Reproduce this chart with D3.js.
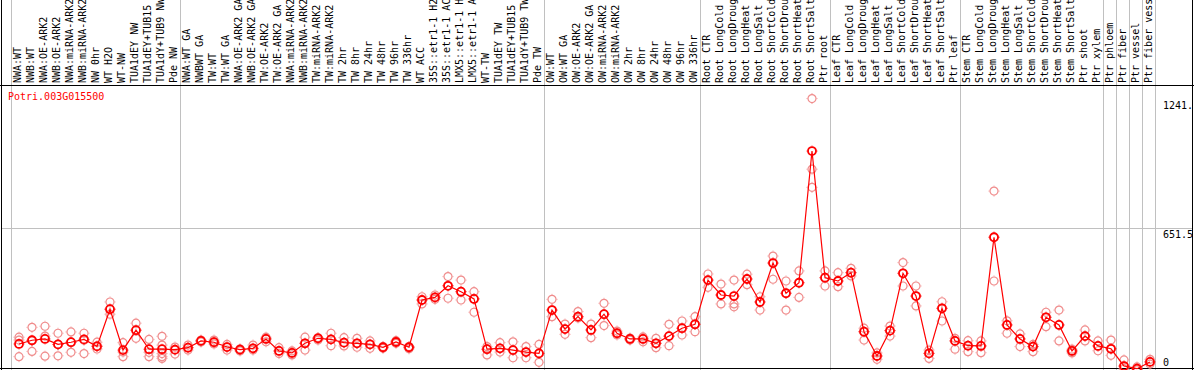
<!DOCTYPE html>
<html>
<head>
<meta charset="utf-8">
<script src="https://cdn.jsdelivr.net/npm/d3@7"></script>
<style>
  body { margin: 0; background: #fff; }
  svg { display: block; font-family: "DejaVu Sans Mono", monospace; }
</style>
</head>
<body>
<svg id="chart" width="1194" height="370"></svg>
<script>
const geneId = 'Potri.003G015500';

const sampleLabels = [
  'NWA:WT', 'NWB:WT', 'NWA:OE-ARK2', 'NWB:OE-ARK2', 'NWA:miRNA-ARK2', 'NWB:miRNA-ARK2', 'NW 0hr', 'WT H2O',
  'WT-NW', 'TUA1dEY NW', 'TUA1dEY+TUB15 NW', 'TUA1dY+TUB9 NW', 'Pde NW',
  'NWA:WT GA', 'NWBWT GA', 'TW:WT', 'TW:WT GA', 'NWA:OE-ARK2 GA', 'NWB:OE-ARK2 GA', 'TW:OE-ARK2', 'TW:OE-ARK2 GA',
  'NWA:miRNA-ARK2 GA', 'NWB:miRNA-ARK2 GA', 'TW:miRNA-ARK2', 'TW:miRNA-ARK2 GA', 'TW 2hr', 'TW 8hr', 'TW 24hr',
  'TW 48hr', 'TW 96hr', 'TW 336hr', 'WT ACC', '35S::etr1-1 H2O', '35S::etr1-1 ACC', 'LMX5::etr1-1 H2O',
  'LMX5::etr1-1 ACC', 'WT-TW', 'TUA1dEY TW', 'TUA1dEY+TUB15 TW', 'TUA1dY+TUB9 TW', 'Pde TW',
  'OW:WT', 'OW:WT GA', 'OW:OE-ARK2', 'OW:OE-ARK2 GA', 'OW:miRNA-ARK2', 'OW:miRNA-ARK2 GA', 'OW 2hr', 'OW 8hr',
  'OW 24hr', 'OW 48hr', 'OW 96hr', 'OW 336hr',
  'Root CTR', 'Root LongCold', 'Root LongDrought', 'Root LongHeat', 'Root LongSalt', 'Root ShortCold',
  'Root ShortDrought', 'Root ShortHeat', 'Root ShortSalt', 'Ptr root',
  'Leaf CTR', 'Leaf LongCold', 'Leaf LongDrought', 'Leaf LongHeat', 'Leaf LongSalt', 'Leaf ShortCold',
  'Leaf ShortDrought', 'Leaf ShortHeat', 'Leaf ShortSalt', 'Ptr leaf',
  'Stem CTR', 'Stem LongCold', 'Stem LongDrought', 'Stem LongHeat', 'Stem LongSalt', 'Stem ShortCold',
  'Stem ShortDrought', 'Stem ShortHeat', 'Stem ShortSalt', 'Ptr shoot', 'Ptr xylem',
  'Ptr phloem', 'Ptr fiber', 'Ptr vessel', 'Ptr fiber vessel'
];

// number of samples in each experiment block (grey separators)
const groupSizes = [13, 28, 12, 10, 10, 11, 1, 1, 1, 1];

// mean expression per sample
const meanValues = [
  119, 136, 142, 117, 127, 140, 108, 278, 91, 182, 95, 95, 93,
  102, 133, 127, 105, 93, 99, 142, 87, 78, 122, 145, 140, 125, 122, 117, 104, 128, 104,
  320, 332, 385, 358, 325, 95, 99, 91, 82, 76,
  274, 187, 244, 183, 255, 168, 142, 142, 122, 155, 191, 209,
  411, 343, 338, 416, 311, 489, 351, 399, 1001, 422,
  407, 445, 175, 64, 180, 442, 338, 76, 282, 133,
  111, 110, 607, 206, 142, 107, 241, 206, 87, 155, 110,
  97, 18, 6, 37
];

// replicate values per sample
const replicateValues = [
  [150, 137, 61], [195, 134, 85], [200, 155, 63], [168, 117, 65], [174, 127, 81], [168, 136, 75],
  [127, 110, 96], [311, 278, 255], [125, 82, 61], [214, 182, 145], [140, 81, 61],
  [154, 114, 75, 61, 53], [105, 91, 73],
  [114, 102, 91], [137, 133, 128], [137, 127, 119], [117, 105, 91], [97, 93, 87], [114, 99, 91],
  [150, 142, 129], [102, 87, 75], [87, 78, 69], [150, 122, 91], [148, 145, 137], [168, 140, 111],
  [148, 125, 110], [145, 122, 104], [133, 117, 99], [107, 104, 99], [134, 128, 122], [107, 104, 97],
  [335, 320, 302], [343, 332, 323], [427, 385, 328], [411, 358, 320], [358, 325, 264],
  [107, 95, 69], [125, 99, 82], [129, 91, 56], [107, 82, 56], [117, 76, 35],
  [323, 274, 244], [210, 187, 163], [267, 244, 238], [210, 183, 148], [305, 255, 203], [178, 168, 160],
  [146, 142, 137], [151, 142, 129], [145, 122, 102], [209, 155, 111], [224, 191, 160], [244, 209, 175],
  [439, 411, 378], [393, 343, 302], [411, 302, 289], [438, 416, 390], [335, 311, 274], [521, 489, 415],
  [407, 351, 274], [453, 399, 332], [1241, 918, 835], [453, 422, 384],
  [445, 407, 381], [465, 445, 430], [191, 175, 137], [78, 64, 49], [201, 180, 155], [491, 442, 384],
  [384, 338, 293], [91, 76, 53], [312, 282, 224], [145, 133, 95],
  [134, 111, 84], [133, 110, 79], [818, 607, 407], [225, 206, 168], [165, 142, 107], [117, 107, 84],
  [264, 241, 198], [274, 206, 133], [95, 87, 78], [183, 155, 133], [133, 110, 88],
  [137, 97, 67], [46, 18, 5], [14, 6, 0], [49, 37, 27]
];

const yTicks = [1241, 651.5, 0];
const yTickText = ['1241.', '651.5', '0'];

const W = 1194, H = 370;
const headerBottom = 85;
const colLeft = 11, colRight = 1155;

const svg = d3.select('#chart');

svg.append('rect').attr('width', W).attr('height', H).attr('fill', '#fff');

const x = d3.scaleBand()
  .domain(d3.range(sampleLabels.length))
  .range([colLeft, colRight]);

const y = d3.scaleLinear()
  .domain([0, 1303])
  .range([H, headerBottom]);

const px = i => x(i) + 8;

// grey separators between experiments
const bounds = [0];
groupSizes.forEach(s => bounds.push(bounds[bounds.length - 1] + s));
svg.append('g')
  .selectAll('line')
  .data(bounds)
  .join('line')
    .attr('x1', b => (b < sampleLabels.length ? x(b) : colRight) + 0.5)
    .attr('x2', b => (b < sampleLabels.length ? x(b) : colRight) + 0.5)
    .attr('y1', 0)
    .attr('y2', H)
    .attr('stroke', '#c0c0c0')
    .attr('stroke-width', 1);

// horizontal mid grid line
svg.append('line')
  .attr('x1', 1).attr('x2', 1192)
  .attr('y1', Math.round(y(651.5)) + 0.5).attr('y2', Math.round(y(651.5)) + 0.5)
  .attr('stroke', '#c0c0c0');

// sample labels, rotated
svg.append('g')
  .selectAll('text')
  .data(sampleLabels)
  .join('text')
    .attr('transform', (d, i) => `translate(${x(i) + 10},83) rotate(-90)`)
    .attr('font-size', 10)
    .attr('fill', '#000')
    .text(d => d);

// frame
svg.append('line').attr('x1', 0).attr('x2', W).attr('y1', headerBottom + 0.5).attr('y2', headerBottom + 0.5)
  .attr('stroke', '#000');
svg.append('line').attr('x1', 1.5).attr('x2', 1.5).attr('y1', 0).attr('y2', H).attr('stroke', '#000');
svg.append('line').attr('x1', 1192.5).attr('x2', 1192.5).attr('y1', 0).attr('y2', H).attr('stroke', '#000');
svg.append('line').attr('x1', 0).attr('x2', W).attr('y1', 368.5).attr('y2', 368.5).attr('stroke', '#000');

// y labels
svg.append('g')
  .selectAll('text')
  .data(yTicks)
  .join('text')
    .attr('x', 1163)
    .attr('y', (d, i) => d === 0 ? y(d) - 4 : y(d) + 10)
    .attr('font-size', 10)
    .attr('fill', '#000')
    .text((d, i) => yTickText[i]);

// gene id
svg.append('text')
  .attr('x', 8).attr('y', 100)
  .attr('font-size', 10)
  .attr('fill', '#ff0000')
  .text(geneId);

// marker: circle with four small ticks
function marker(g, color, sw) {
  g.append('circle').attr('r', 4).attr('fill', 'none').attr('stroke', color).attr('stroke-width', sw);
  g.append('path')
    .attr('d', 'M0,-4.5V-5.5M0,4.5V5.5M-4.5,0H-5.5M4.5,0H5.5')
    .attr('stroke', color).attr('stroke-width', 0.8);
}

const plot = svg.append('g');

// replicates
const reps = [];
replicateValues.forEach((arr, i) => arr.forEach(v => reps.push({ i, v })));
plot.selectAll('g.rep')
  .data(reps)
  .join('g')
    .attr('class', 'rep')
    .attr('transform', d => `translate(${px(d.i)},${y(d.v)})`)
    .each(function() { marker(d3.select(this), '#f08c8c', 1.2); });

// mean line
const line = d3.line()
  .x((d, i) => px(i))
  .y(d => y(d));
plot.append('path')
  .datum(meanValues)
  .attr('fill', 'none')
  .attr('stroke', '#ff0000')
  .attr('stroke-width', 1.2)
  .attr('d', line);

// means
plot.selectAll('g.mean')
  .data(meanValues)
  .join('g')
    .attr('class', 'mean')
    .attr('transform', (d, i) => `translate(${px(i)},${y(d)})`)
    .each(function() { marker(d3.select(this), '#ff0000', 1.8); });
</script>
</body>
</html>
